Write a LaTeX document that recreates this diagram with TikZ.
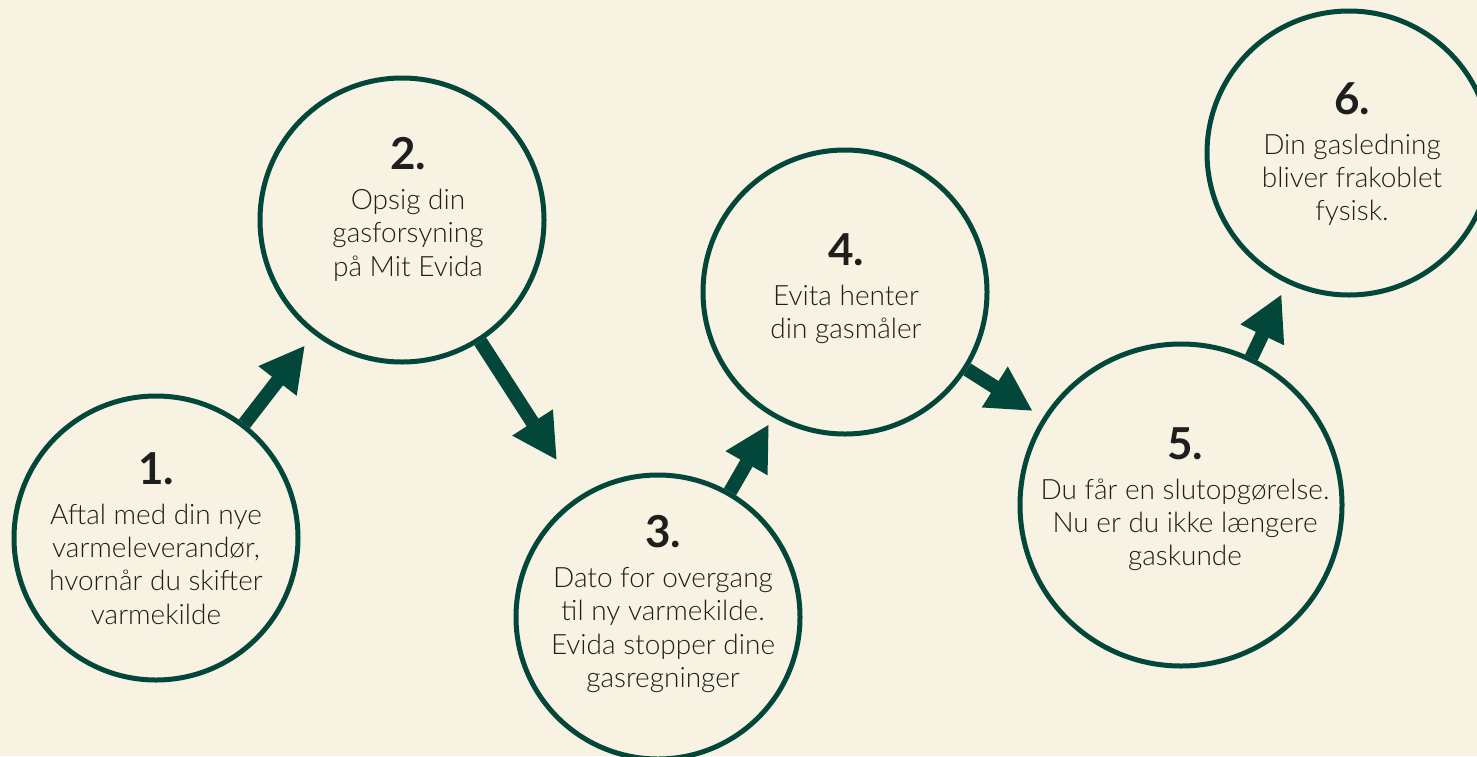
\documentclass[tikz,border=0pt]{standalone}
\usepackage{fontspec}
\setmainfont{Lato Light}[BoldFont={Lato Bold}]
\usetikzlibrary{arrows.meta}

\definecolor{evidagreen}{HTML}{03473A}
\definecolor{evidacream}{HTML}{F7F2E1}
\definecolor{evidaink}{HTML}{1E1E1E}

\newcommand{\stepno}[1]{{\bfseries\fontsize{22pt}{22pt}\selectfont #1}\\[3.5pt]}

\begin{document}
\begin{tikzpicture}[x=0.5pt, y=-0.5pt,
  stepcircle/.style={draw=evidagreen, line width=2.5pt, circle, fill=evidacream, minimum size=142pt, inner sep=0pt},
  steptext/.style={anchor=north, align=center, inner sep=0pt, text=evidaink, font=\fontsize{14pt}{16.6pt}\selectfont},
  steparrow/.style={line width=7pt, evidagreen, -{Triangle[length=22.5pt, width=22.5pt]}}]

\fill[evidacream] (0,0) rectangle (1477,756);
\useasboundingbox (0,0) rectangle (1477,756);

\node (c1) [stepcircle] at (156,538) {};
\node (c2) [stepcircle] at (402,220) {};
\node (c3) [stepcircle] at (658,617) {};
\node (c4) [stepcircle] at (845,292) {};
\node (c5) [stepcircle, minimum size=161pt] at (1181,505) {};
\node (c6) [stepcircle] at (1349,153) {};

\node (t1) [steptext] at (156,452) {\stepno{1.}Aftal med din nye\\varmeleverandør,\\hvornår du skifter\\varmekilde};
\node (t2) [steptext] at (408,137) {\stepno{2.}Opsig din\\gasforsyning\\på Mit Evida};
\node (t3) [steptext] at (663,515) {\stepno{3.}Dato for overgang\\til ny varmekilde.\\Evida stopper dine\\gasregninger};
\node (t4) [steptext] at (846,233) {\stepno{4.}Evita henter\\din gasmåler};
\node (t5) [steptext] at (1185,427) {\stepno{5.}Du får en slutopgørelse.\\Nu er du ikke længere\\gaskunde};
\node (t6) [steptext] at (1352,82) {\stepno{6.}Din gasledning\\bliver frakoblet\\fysisk.};

\draw[steparrow, shorten >=7pt] (c1) -- (c2);
\draw[steparrow, shorten >=21pt] (c2) -- (c3);
\draw[steparrow, shorten >=4pt] (c3) -- (c4);
\draw[steparrow, shorten >=6pt] (c4) -- (c5);
\draw[steparrow, shorten >=6pt] (c5) -- (c6);
\end{tikzpicture}
\end{document}
